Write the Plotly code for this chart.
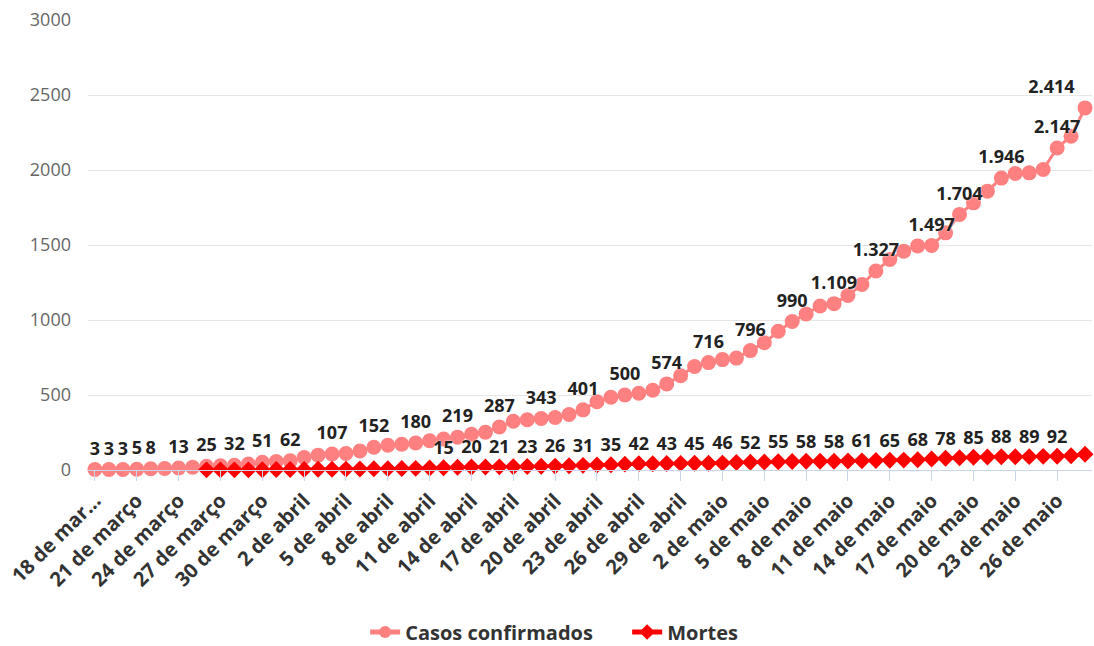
import datetime as dt
import plotly.graph_objects as go

# ---- categories (18 de março .. 28 de maio) ----
MONTHS_PT = {3: "março", 4: "abril", 5: "maio"}
start = dt.date(2020, 3, 18)
n_days = 72
categories = [f"{(start + dt.timedelta(days=i)).day} de {MONTHS_PT[(start + dt.timedelta(days=i)).month]}"
              for i in range(n_days)]

# ---- series values ----
confirmados = [
    3, 3, 3, 5, 8, 10, 13, 18, 25, 28,
    32, 40, 51, 57, 62, 83, 99, 107, 110, 127,
    152, 165, 172, 180, 195, 206, 219, 238, 252, 287,
    325, 335, 343, 350, 370, 401, 455, 485, 500, 512,
    532, 574, 628, 690, 716, 736, 746, 796, 848, 925,
    990, 1040, 1093, 1109, 1163, 1237, 1327, 1403, 1459, 1494,
    1497, 1581, 1704, 1781, 1859, 1946, 1977, 1981, 2003, 2147,
    2225, 2414,
]

mortes_start = 8  # first day with deaths series (26 de março)
mortes = [
    1, 1, 1, 1, 2, 3, 3, 4, 5, 5,
    6, 7, 8, 9, 10, 11, 13, 15, 18, 20,
    20, 21, 22, 23, 25, 26, 28, 31, 33, 35,
    39, 42, 42, 43, 44, 45, 45, 46, 50, 52,
    53, 55, 57, 58, 58, 58, 60, 61, 63, 65,
    66, 68, 73, 78, 82, 85, 87, 88, 88, 89,
    91, 92, 95, 105,
]

# indices (days) whose data label is shown
conf_label_idx = [0, 1, 2, 3, 4, 6, 8, 10, 12, 14, 17, 20, 23, 26, 29, 32, 35, 38,
                  41, 44, 47, 50, 53, 56, 60, 62, 65, 69, 71]
mort_label_idx = [25, 27, 29, 31, 33, 35, 37, 39, 41, 43, 45, 47, 49, 51, 53, 55,
                  57, 59, 61, 63, 65, 67, 69]

tick_idx = list(range(0, n_days, 3))
tick_text = [categories[i] for i in tick_idx]
tick_text[0] = "18 de mar..."


def fmt(v):
    return f"{v:,}".replace(",", ".")


conf_text = [fmt(v) if i in conf_label_idx else "" for i, v in enumerate(confirmados)]
conf_pos = ["top center"] * n_days
conf_pos[-1] = "top left"

mort_x = categories[mortes_start:]
mort_text = [fmt(v) if (i + mortes_start) in mort_label_idx else "" for i, v in enumerate(mortes)]

FONT = "Open Sans"
LABEL_FONT = dict(family=FONT, size=18, color="#222222", weight="bold",
                  shadow="0px 0px 2px white")

fig = go.Figure()
fig.add_trace(go.Scatter(
    x=categories, y=confirmados, name="Casos confirmados",
    mode="lines+markers+text",
    line=dict(color="#ff8080", width=3),
    marker=dict(symbol="circle", size=15, color="#ff8080"),
    text=conf_text, textposition=conf_pos, textfont=LABEL_FONT,
    cliponaxis=False,
))
fig.add_trace(go.Scatter(
    x=mort_x, y=mortes, name="Mortes",
    mode="lines+markers+text",
    line=dict(color="#ff0000", width=3),
    marker=dict(symbol="diamond", size=13, color="#ff0000"),
    text=mort_text, textposition="top center", textfont=LABEL_FONT,
    cliponaxis=False,
))

fig.update_layout(
    width=1094, height=646, autosize=False,
    margin=dict(l=88, r=2, t=20, b=176, autoexpand=False),
    paper_bgcolor="white", plot_bgcolor="white",
    font=dict(family=FONT),
    showlegend=True,
    legend=dict(orientation="h", x=0.537, xanchor="center",
                y=-0.36, yanchor="middle",
                font=dict(family=FONT, size=20, color="#333333", weight="bold"),
                itemsizing="constant", entrywidth=217, entrywidthmode="pixels",
                itemwidth=30),
    xaxis=dict(
        type="category", categoryorder="array", categoryarray=categories,
        range=[-0.5, n_days - 0.5],
        tickmode="array", tickvals=[categories[i] for i in tick_idx], ticktext=tick_text,
        tickangle=-45, ticks="outside", ticklen=10, tickcolor="#ccd6eb",
        showline=True, linecolor="#ccd6eb", linewidth=1, showgrid=False,
        tickfont=dict(family=FONT, size=20, color="#333333", weight="bold"),
        zeroline=False, automargin=False,
    ),
    yaxis=dict(
        range=[0, 3000], tickvals=[0, 500, 1000, 1500, 2000, 2500, 3000],
        showgrid=True, gridcolor="#e6e6e6", gridwidth=1,
        zeroline=False, showline=False, ticks="",
        tickfont=dict(family=FONT, size=18, color="#666666"),
        ticklabelstandoff=16, automargin=False,
    ),
)

fig.write_html("out.html", config={"displayModeBar": False},
               post_script="document.body.style.margin='0';")
